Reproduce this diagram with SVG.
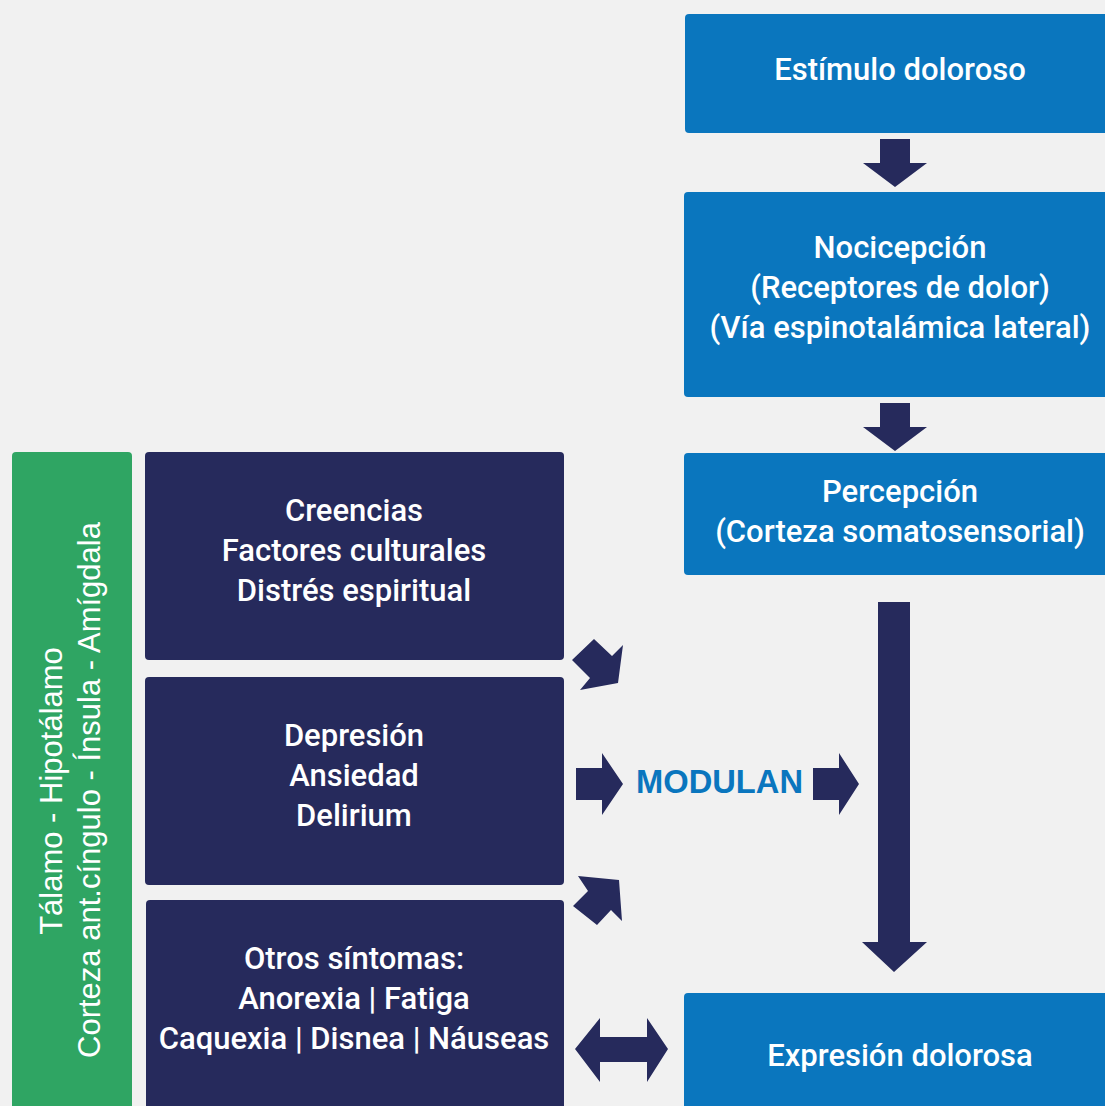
<svg xmlns="http://www.w3.org/2000/svg" width="1105" height="1106" viewBox="0 0 1105 1106">
<style>
.blue{fill:#0a76be}
.navy{fill:#262a5c}
.green{fill:#2fa563}
.arr{fill:#262a5c}
.t{font-family:Roboto,"Liberation Sans",sans-serif;font-size:31px;font-weight:500;fill:#ffffff;text-anchor:middle}
.g{font-family:"Liberation Sans",Arial,sans-serif;font-size:31px;fill:#ffffff;text-anchor:middle}
.m{font-family:"Liberation Sans",Arial,sans-serif;font-size:34px;font-weight:bold;fill:#0a76be}
</style>
<rect width="1105" height="1106" fill="#f1f1f1"/>
<g id="estimulo"><rect class="blue" x="685" y="14" width="430" height="119" rx="4"/><text class="t" x="900" y="80">Estímulo doloroso</text></g>
<g id="nocicepcion"><rect class="blue" x="684" y="192" width="431" height="205" rx="4"/>
<text class="t" x="900" y="258">Nocicepción</text>
<text class="t" x="900" y="298">(Receptores de dolor)</text>
<text class="t" x="900" y="338">(Vía espinotalámica lateral)</text></g>
<g id="percepcion"><rect class="blue" x="684" y="453" width="431" height="122" rx="4"/>
<text class="t" x="900" y="502">Percepción</text>
<text class="t" x="900" y="542">(Corteza somatosensorial)</text></g>
<g id="expresion"><rect class="blue" x="684" y="993" width="431" height="123" rx="4"/>
<text class="t" x="900" y="1066">Expresión dolorosa</text></g>
<g id="areas"><rect class="green" x="12" y="452" width="120" height="664" rx="4"/>
<text class="g" transform="translate(62,791) rotate(-90)">Tálamo - Hipotálamo</text>
<text class="g" transform="translate(100,790) rotate(-90)">Corteza ant.cíngulo - Ínsula - Amígdala</text></g>
<g id="creencias"><rect class="navy" x="145" y="452" width="419" height="208" rx="4"/>
<text class="t" x="354" y="521">Creencias</text>
<text class="t" x="354" y="561">Factores culturales</text>
<text class="t" x="354" y="601">Distrés espiritual</text></g>
<g id="depresion"><rect class="navy" x="145" y="677" width="419" height="208" rx="4"/>
<text class="t" x="354" y="746">Depresión</text>
<text class="t" x="354" y="786">Ansiedad</text>
<text class="t" x="354" y="826">Delirium</text></g>
<g id="otros"><rect class="navy" x="146" y="900" width="418" height="216" rx="4"/>
<text class="t" x="354" y="969">Otros síntomas:</text>
<text class="t" x="354" y="1009">Anorexia | Fatiga</text>
<text class="t" x="354" y="1049">Caquexia | Disnea | Náuseas</text></g>
<g id="modulan"><text class="m" x="636" y="793" textLength="167" lengthAdjust="spacingAndGlyphs">MODULAN</text></g>
<g id="connectors">
<polygon class="arr" points="880,139 910,139 910,163 927,163 895,187 863,163 880,163"/>
<polygon class="arr" points="880,403 910,403 910,427 927,427 895,451 863,427 880,427"/>
<polygon class="arr" points="878,602 910,602 910,942 927,942 894,972 862,942 878,942"/>
<polygon class="arr" points="594,639 572,660 590,678 580,690 618,683 623,645 612,656"/>
<polygon class="arr" points="576,768 602,768 602,753 623,784 602,815 602,800 576,800"/>
<polygon class="arr" points="813,768 839,768 839,753 859,784 839,815 839,800 813,800"/>
<polygon class="arr" points="578,876 619,880 622,921 611,910 597,925 573,906 588,891"/>
<polygon class="arr" points="575,1049 600,1018 600,1037 647,1037 647,1018 668,1049 647,1082 647,1062 600,1062 600,1082"/>
</g>
</svg>
